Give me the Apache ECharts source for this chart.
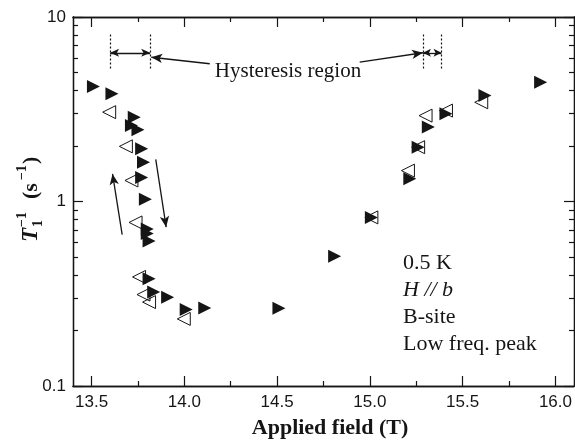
<!DOCTYPE html>
<html>
<head>
<meta charset="utf-8">
<script src="https://cdn.jsdelivr.net/npm/echarts@6/dist/echarts.min.js"></script>
<style>
  html, body { margin: 0; padding: 0; background: #fff; }
  #chart { width: 575px; height: 441px; }
</style>
</head>
<body>
<div id="chart"></div>
<script>
// field sweep up (filled, right-pointing)
const upField = [13.51, 13.61, 13.73, 13.715, 13.75, 13.77, 13.78, 13.77, 13.79, 13.80, 13.80, 13.81,
                 13.81, 13.835, 13.91, 14.01, 14.11, 14.51, 14.81, 15.008, 15.215, 15.26, 15.315, 15.41, 15.62, 15.92];
const upRate = [4.2, 3.84, 2.86, 2.58, 2.45, 1.93, 1.63, 1.35, 1.03, 0.71, 0.67, 0.61,
                0.381, 0.323, 0.303, 0.26, 0.265, 0.264, 0.505, 0.82, 1.33, 1.97, 2.53, 2.99, 3.75, 4.43];
// field sweep down (open, left-pointing)
const downField = [13.595, 13.685, 13.715, 13.737, 13.756, 13.78, 13.81, 13.997, 15.008, 15.205, 15.26, 15.30, 15.41, 15.60];
const downRate = [3.05, 1.99, 1.30, 0.77, 0.39, 0.313, 0.285, 0.231, 0.82, 1.47, 1.97, 2.92, 3.11, 3.45];

const xMajor = [13.5, 14.0, 14.5, 15.0, 15.5, 16.0];
const xMinor = [13.75, 14.25, 14.75, 15.25, 15.75];
const yMajor = [0.1, 1, 10];
const yMinor = [0.2, 0.3, 0.4, 0.5, 0.6, 0.7, 0.8, 0.9, 2, 3, 4, 5, 6, 7, 8, 9];

// hysteresis region boundaries and annotation arrows
const hystBounds = [13.6, 13.816, 15.286, 15.386];
const hystSpan = [5.26, 8.14];
const hystArrowY = 6.4;
const leftPointer = [[14.137, 5.58], [13.822, 6.05]];
const rightPointer = [[14.945, 5.69], [15.286, 6.40]];
const upSweepArrow = [[13.665, 0.662], [13.613, 1.41]];
const downSweepArrow = [[13.846, 1.69], [13.902, 0.726]];

const infoLines = ['0.5 K', 'H // b', 'B-site', 'Low freq. peak'];

const serif = '"Liberation Serif", "Times New Roman", serif';
const sans = '"Liberation Sans", Arial, sans-serif';
const ink = '#151515';

let chart = echarts.init(document.getElementById('chart'));

function zip(a, b) {
    return a.map((v, i) => [v, b[i]]);
}

function arrowLine(pts) {
    return [
        { coord: pts[0], symbol: 'none' },
        { coord: pts[1], symbol: 'arrow', symbolSize: [7, 11] }
    ];
}

let annot = [];
hystBounds.forEach(x => {
    annot.push([
        { coord: [x, hystSpan[0]], symbol: 'none', lineStyle: { type: [2, 2], width: 1.2 } },
        { coord: [x, hystSpan[1]], symbol: 'none' }
    ]);
});
annot.push([
    { coord: [hystBounds[0], hystArrowY], symbol: 'arrow', symbolSize: [6, 9] },
    { coord: [hystBounds[1], hystArrowY], symbol: 'arrow', symbolSize: [6, 9] }
]);
annot.push([
    { coord: [hystBounds[2], hystArrowY], symbol: 'arrow', symbolSize: [6, 8] },
    { coord: [hystBounds[3], hystArrowY], symbol: 'arrow', symbolSize: [6, 8] }
]);
annot.push(arrowLine(leftPointer));
annot.push(arrowLine(rightPointer));
annot.push(arrowLine(upSweepArrow));
annot.push(arrowLine(downSweepArrow));

function xAxisDef(pos, ticks, len, withLabel) {
    return {
        type: 'value', position: pos, min: 13.4, max: 16.1,
        axisLine: { show: true, onZero: false, lineStyle: { color: ink, width: 1.3 } },
        axisTick: { show: true, inside: true, length: len, customValues: ticks, lineStyle: { color: ink, width: 1.2 } },
        axisLabel: withLabel ? {
            show: true, customValues: ticks, margin: 8, fontFamily: sans, fontSize: 17, color: ink,
            formatter: v => v.toFixed(1)
        } : { show: false },
        splitLine: { show: false }
    };
}

function yAxisDef(pos, ticks, len, withLabel) {
    return {
        type: 'log', logBase: 10, position: pos, min: 0.1, max: 10,
        axisLine: { show: true, onZero: false, lineStyle: { color: ink, width: 1.3 } },
        axisTick: { show: true, inside: true, length: len, customValues: ticks, lineStyle: { color: ink, width: 1.2 } },
        axisLabel: withLabel ? {
            show: true, customValues: ticks, margin: 7, fontFamily: sans, fontSize: 17, color: ink,
            formatter: v => (v < 0.5 ? '0.1' : v < 5 ? '1' : '10')
        } : { show: false },
        splitLine: { show: false }
    };
}

let option = {
    animation: false,
    backgroundColor: '#fff',
    grid: { left: 73, top: 17, width: 501, height: 369 },
    xAxis: [
        xAxisDef('bottom', xMajor, 10, true),
        xAxisDef('bottom', xMinor, 5, false),
        xAxisDef('top', xMajor, 10, false),
        xAxisDef('top', xMinor, 5, false)
    ],
    yAxis: [
        yAxisDef('left', yMajor, 10, true),
        yAxisDef('left', yMinor, 5, false),
        yAxisDef('right', yMajor, 10, false),
        yAxisDef('right', yMinor, 5, false)
    ],
    series: [
        {
            name: 'up',
            type: 'scatter',
            data: zip(upField, upRate),
            symbol: 'triangle',
            symbolRotate: -90,
            symbolSize: 13,
            itemStyle: { color: ink, opacity: 1 },
            markLine: {
                silent: true,
                label: { show: false },
                lineStyle: { color: ink, width: 1.3, type: 'solid' },
                data: annot
            }
        },
        {
            name: 'down',
            type: 'scatter',
            data: zip(downField, downRate),
            symbol: 'triangle',
            symbolRotate: 90,
            symbolSize: 13,
            itemStyle: { color: 'rgba(255,255,255,0)', borderColor: ink, borderWidth: 1, opacity: 1 }
        }
    ],
    graphic: [
        {
            type: 'text', x: 288, y: 71,
            style: {
                text: 'Hysteresis region', align: 'center', verticalAlign: 'middle',
                font: '21px ' + serif, fill: ink, backgroundColor: '#fff', padding: [0, 3]
            }
        },
        {
            type: 'group', x: 31, y: 200, rotation: Math.PI / 2,
            children: [
                { type: 'text', style: { text: 'T', x: -42, y: 0, verticalAlign: 'middle', font: 'italic bold 23px ' + serif, fill: ink } },
                { type: 'text', style: { text: '1', x: -27, y: 7, verticalAlign: 'middle', font: 'bold 14px ' + serif, fill: ink } },
                { type: 'text', style: { text: '\u22121', x: -27, y: -9, verticalAlign: 'middle', font: 'bold 14px ' + serif, fill: ink } },
                { type: 'text', style: { text: '(s', x: 1, y: 0, verticalAlign: 'middle', font: 'bold 22px ' + serif, fill: ink } },
                { type: 'text', style: { text: '\u22121', x: 20, y: -9, verticalAlign: 'middle', font: 'bold 14px ' + serif, fill: ink } },
                { type: 'text', style: { text: ')', x: 36, y: 0, verticalAlign: 'middle', font: 'bold 22px ' + serif, fill: ink } }
            ]
        },
        {
            type: 'text', x: 330, y: 428,
            style: {
                text: 'Applied field (T)', align: 'center', verticalAlign: 'middle',
                font: 'bold 22px ' + serif, fill: ink
            }
        },
        {
            type: 'group', x: 403, y: 263,
            children: infoLines.map((t, i) => ({
                type: 'text', y: i * 27,
                style: {
                    text: t, verticalAlign: 'middle',
                    font: (i === 1 ? 'italic ' : '') + '22px ' + serif, fill: ink
                }
            }))
        }
    ]
};

chart.setOption(option);
</script>
</body>
</html>
